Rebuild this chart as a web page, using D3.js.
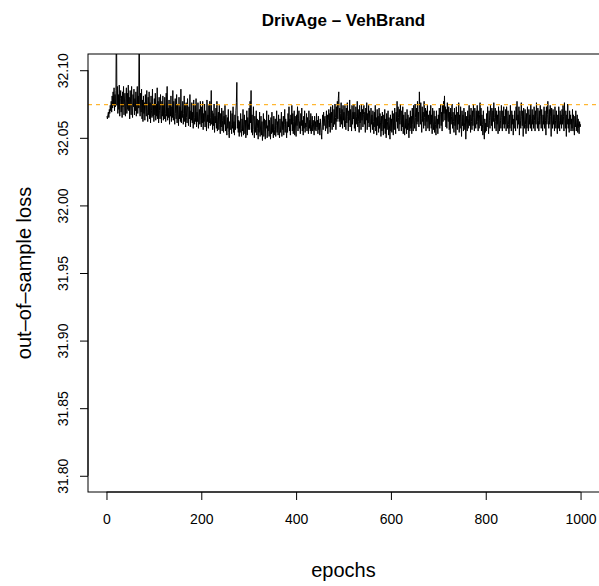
<!DOCTYPE html>
<html>
<head>
<meta charset="utf-8">
<script src="https://cdn.jsdelivr.net/npm/d3@7"></script>
<style>
    body { margin: 0; background: #fff; overflow: hidden; }
    text { font-family: "Liberation Sans", Arial, sans-serif; }
</style>
</head>
<body>
<div id="chart"></div>
<script>
'use strict';

// loss per epoch, stored as thousandths above lossBase
var lossBase = 32.0;
var lossOffset = [
    66,64,67,69,65,71,68,74,70,77,69,81,72,84,74,87,70,82,73,85,
    150,74,88,68,82,71,89,66,79,85,69,81,65,84,73,88,67,78,83,66,
    79,87,68,83,71,89,70,80,64,85,75,67,88,72,65,82,73,86,67,79,
    70,84,66,78,88,68,81,72,140,74,66,83,69,86,64,78,62,81,68,76,
    63,82,72,66,85,69,62,80,67,84,64,76,61,81,70,65,86,66,75,62,
    79,67,83,63,75,66,87,64,77,61,80,70,64,82,68,61,77,66,81,63,
    75,64,80,68,62,83,66,88,63,72,65,78,60,75,66,81,62,73,65,85,
    63,77,66,60,79,68,64,82,61,75,67,59,80,64,73,62,86,61,70,65,
    77,60,68,81,62,74,58,76,65,61,79,66,59,73,64,82,58,70,63,76,
    61,69,57,78,65,60,74,62,79,58,69,62,76,57,66,71,60,77,63,58,
    73,61,77,56,68,62,75,58,70,64,55,78,62,67,57,74,61,77,59,65,
    85,60,70,56,68,59,75,54,66,61,72,57,77,55,65,69,56,74,60,53,
    68,58,72,55,63,70,54,66,60,74,55,67,58,52,65,57,71,54,50,62,
    56,70,60,53,68,57,73,54,62,52,67,56,70,76,91,57,66,54,63,51,
    62,54,68,57,51,64,55,71,52,60,67,53,63,50,58,70,52,65,56,61,
    72,56,77,61,85,54,67,52,62,73,56,50,66,54,61,70,52,64,57,49,
    63,54,69,51,58,66,52,62,48,56,68,51,64,55,49,63,57,70,50,59,
    55,67,51,63,56,49,65,53,69,54,60,50,66,56,52,64,51,59,70,54,
    62,52,67,56,50,64,54,59,69,51,62,56,66,52,60,71,54,64,57,50,
    62,54,68,58,73,55,64,52,67,60,74,55,68,53,62,70,52,66,58,51,
    67,59,73,55,64,70,57,62,53,68,59,72,55,63,52,66,57,70,54,61,
    58,68,55,65,60,53,70,57,63,55,68,53,60,66,55,63,58,52,66,56,
    62,55,68,58,63,53,66,56,61,52,64,58,54,49,60,67,56,69,59,64,
    66,55,61,70,57,67,53,63,71,58,68,54,73,61,69,56,74,62,58,71,
    60,75,65,56,73,62,77,64,79,84,62,72,58,68,76,60,71,57,74,63,
    69,58,74,63,56,72,61,76,66,55,70,63,78,58,71,65,55,74,60,69,
    64,75,57,69,55,73,66,60,77,58,71,62,54,74,61,69,56,75,63,71,
    58,67,74,60,69,54,72,63,76,56,68,61,74,58,70,64,54,72,60,67,
    56,70,62,53,69,58,74,55,65,52,71,59,66,54,72,57,68,61,51,66,
    55,69,60,52,67,57,71,53,64,50,68,56,62,70,52,65,58,49,67,55,
    64,54,70,58,52,68,56,72,61,53,69,62,77,57,73,65,55,71,60,75,
    63,55,70,58,73,53,67,61,52,69,57,64,53,71,56,67,61,50,65,55,
    70,57,66,53,72,60,55,74,63,57,75,65,55,72,60,77,62,69,58,84,
    71,60,76,64,54,73,62,69,57,77,65,59,72,55,70,62,74,57,67,61,
    55,70,60,74,57,67,53,72,62,56,70,54,66,60,52,70,57,64,53,67,
    60,72,57,67,75,59,69,55,74,62,77,68,81,63,73,58,71,57,76,64,
    62,73,56,69,53,72,60,66,75,57,69,62,54,72,59,67,52,73,61,56,
    69,60,76,54,67,57,73,62,51,70,59,67,55,72,61,56,69,49,66,60,
    55,70,57,64,74,59,67,54,72,62,56,70,59,75,65,55,72,61,57,70,
    60,74,62,55,70,57,67,76,59,72,55,67,60,52,70,57,49,64,54,61,
    55,68,58,73,61,53,70,63,57,74,65,59,72,55,70,62,76,65,57,72,
    62,55,70,60,67,53,73,60,55,70,63,57,74,65,55,70,60,73,57,66,
    60,71,55,73,63,57,70,60,53,67,57,74,63,55,70,60,67,52,64,57,
    70,61,55,73,63,77,57,67,60,73,52,70,63,57,76,66,59,70,51,72,
    63,57,71,60,53,68,57,73,63,55,71,60,67,57,75,64,55,71,60,67,
    57,73,63,55,70,60,76,66,57,72,63,55,70,60,74,66,57,71,63,55,
    67,60,73,57,70,63,52,73,60,67,77,63,57,71,60,74,66,51,72,63,
    57,71,60,67,55,73,63,57,70,60,53,67,57,73,63,55,70,60,67,57,
    71,60,74,66,55,76,63,57,70,51,67,60,75,57,64,54,70,60,67,55,
    64,57,71,55,67,60,52,66,58,70,55,61,67,54,64,57,53,62,58,60
];
var referenceLoss = 32.0745;
var xTicks = [0, 200, 400, 600, 800, 1000];
var yTicks = [31.80, 31.85, 31.90, 31.95, 32.00, 32.05, 32.10];
var yRange = [31.80, 32.10];
var chartTitle = 'DrivAge \u2013 VehBrand';
var xLabel = 'epochs';
var yLabel = 'out\u2013of\u2013sample loss';

var width = 599, height = 586;
var plot = { left: 88, right: 599.5, top: 54, bottom: 492 };

var data = lossOffset.map(function(d, i) {
    return { epoch: i + 1, loss: lossBase + d / 1000 };
});

// R style axis ranges: 4% padding on both sides
var nEp = data.length;
var xPad = (nEp - 1) * 0.04;
var yPad = (yRange[1] - yRange[0]) * 0.04;

var x = d3.scaleLinear()
    .domain([1 - xPad, nEp + xPad])
    .range([plot.left, plot.right]);
var y = d3.scaleLinear()
    .domain([yRange[0] - yPad, yRange[1] + yPad])
    .range([plot.bottom, plot.top]);

var svg = d3.select('#chart').append('svg')
    .attr('width', width)
    .attr('height', height);

svg.append('defs').append('clipPath')
    .attr('id', 'plotClip')
    .append('rect')
    .attr('x', plot.left)
    .attr('y', plot.top)
    .attr('width', plot.right - plot.left)
    .attr('height', plot.bottom - plot.top);

var inner = svg.append('g').attr('clip-path', 'url(#plotClip)');

//loss line
inner.append('path')
    .datum(data)
    .attr('fill', 'none')
    .attr('stroke', '#000')
    .attr('stroke-width', 1)
    .attr('d', d3.line()
        .x(function(d) { return x(d.epoch); })
        .y(function(d) { return y(d.loss); }));

//reference level
inner.append('line')
    .attr('x1', plot.left)
    .attr('x2', plot.right)
    .attr('y1', y(referenceLoss))
    .attr('y2', y(referenceLoss))
    .attr('stroke', 'orange')
    .attr('stroke-width', 1)
    .attr('stroke-dasharray', '4,4');

//box (right side falls just past the window edge, as in the original)
svg.append('rect')
    .attr('x', plot.left)
    .attr('y', plot.top)
    .attr('width', plot.right - plot.left + 3)
    .attr('height', plot.bottom - plot.top)
    .attr('fill', 'none')
    .attr('stroke', '#000')
    .attr('stroke-width', 1);

//x axis
var xAxis = svg.append('g')
    .attr('transform', 'translate(0,' + plot.bottom + ')')
    .call(d3.axisBottom(x).tickValues(xTicks).tickSize(8).tickPadding(6)
        .tickFormat(d3.format('d')));
xAxis.select('.domain')
    .attr('d', 'M' + x(xTicks[0]) + ',0H' + x(xTicks[xTicks.length - 1]));
xAxis.selectAll('text')
    .attr('font-size', 14)
    .attr('font-family', '"Liberation Sans", Arial, sans-serif')
    .attr('y', 22)
    .attr('dy', '0.71em');

//y axis, labels parallel to the axis
var yAxis = svg.append('g')
    .attr('transform', 'translate(' + plot.left + ',0)')
    .call(d3.axisLeft(y).tickValues(yTicks).tickSize(8)
        .tickFormat(d3.format('.2f')));
yAxis.select('.domain')
    .attr('d', 'M0,' + y(yTicks[0]) + 'V' + y(yTicks[yTicks.length - 1]));
yAxis.selectAll('text')
    .attr('font-size', 14)
    .attr('font-family', '"Liberation Sans", Arial, sans-serif')
    .attr('x', null)
    .attr('dy', null)
    .attr('text-anchor', 'middle')
    .attr('transform', 'translate(-20,0) rotate(-90)');

svg.selectAll('.tick line').attr('stroke', '#000');

//titles
svg.append('text')
    .attr('x', (plot.left + 599) / 2)
    .attr('y', 26)
    .attr('text-anchor', 'middle')
    .attr('font-size', 17)
    .attr('font-weight', 'bold')
    .text(chartTitle);

svg.append('text')
    .attr('x', (plot.left + 599) / 2)
    .attr('y', 577)
    .attr('text-anchor', 'middle')
    .attr('font-size', 20)
    .text(xLabel);

svg.append('text')
    .attr('transform', 'translate(31,' + (plot.top + plot.bottom) / 2 + ') rotate(-90)')
    .attr('text-anchor', 'middle')
    .attr('font-size', 20)
    .text(yLabel);
</script>
</body>
</html>
